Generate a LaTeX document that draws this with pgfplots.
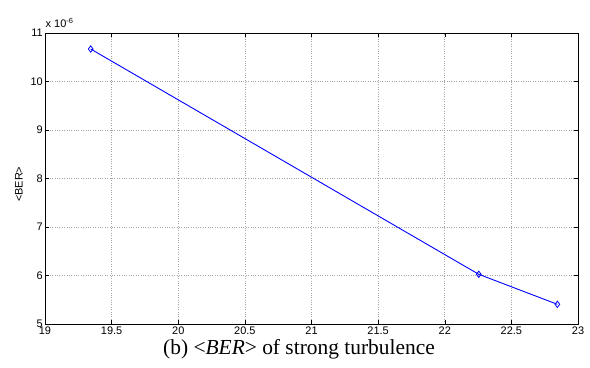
\documentclass[border=0pt]{standalone}
\usepackage{pgfplots}
\pgfplotsset{compat=1.18}
\usepackage{fontspec}
\setmainfont{Liberation Serif}
\newfontfamily\arial{Liberation Sans}
\begin{document}
\begin{tikzpicture}[x=1bp,y=1bp]
\useasboundingbox (0,0) rectangle (590,367);
\begin{axis}[
  at={(45bp,43bp)}, anchor=south west,
  scale only axis, width=533bp, height=291bp,
  xmin=19, xmax=23, ymin=5, ymax=11,
  xtick={19,19.5,...,23}, ytick={5,6,...,11},
  xticklabels={19,19.5,20,20.5,21,21.5,22,22.5,23},
  yticklabels={5,6,7,8,9,10,11},
  tick align=inside, major tick length=4bp,
  tick style={black, line width=0.5pt},
  grid=major, major grid style={gray!70, dotted, line width=0.6pt},
  axis line style={black, line width=0.6pt},
  tick label style={font=\arial\fontsize{11}{12}\selectfont},
  xticklabel style={inner sep=0bp, yshift=-3bp},
  yticklabel style={xshift=-2bp, inner sep=0bp},
  ylabel={\arial\fontsize{11}{12}\selectfont <BER>},
  ylabel style={at={(-0.049,0.48)}, anchor=center},
  clip=false,
]
\addplot[blue, line width=0.9pt, mark=diamond, mark size=3.2pt, mark options={solid, line width=0.8pt}]
 coordinates {(19.343,10.67) (22.255,6.025) (22.845,5.406)};
\node[anchor=base west, font=\arial\fontsize{11}{12}\selectfont, inner sep=0pt] at (rel axis cs:0,1) [yshift=5bp, xshift=0.5bp] {x 10\raisebox{0.75ex}{\fontsize{7.5}{8}\selectfont -6}};
\end{axis}
\node[font=\fontsize{21.5}{23}\selectfont, anchor=base, inner sep=0pt] at (299,12.5) {(b) <\textit{BER}> of strong turbulence};
\end{tikzpicture}
\end{document}
